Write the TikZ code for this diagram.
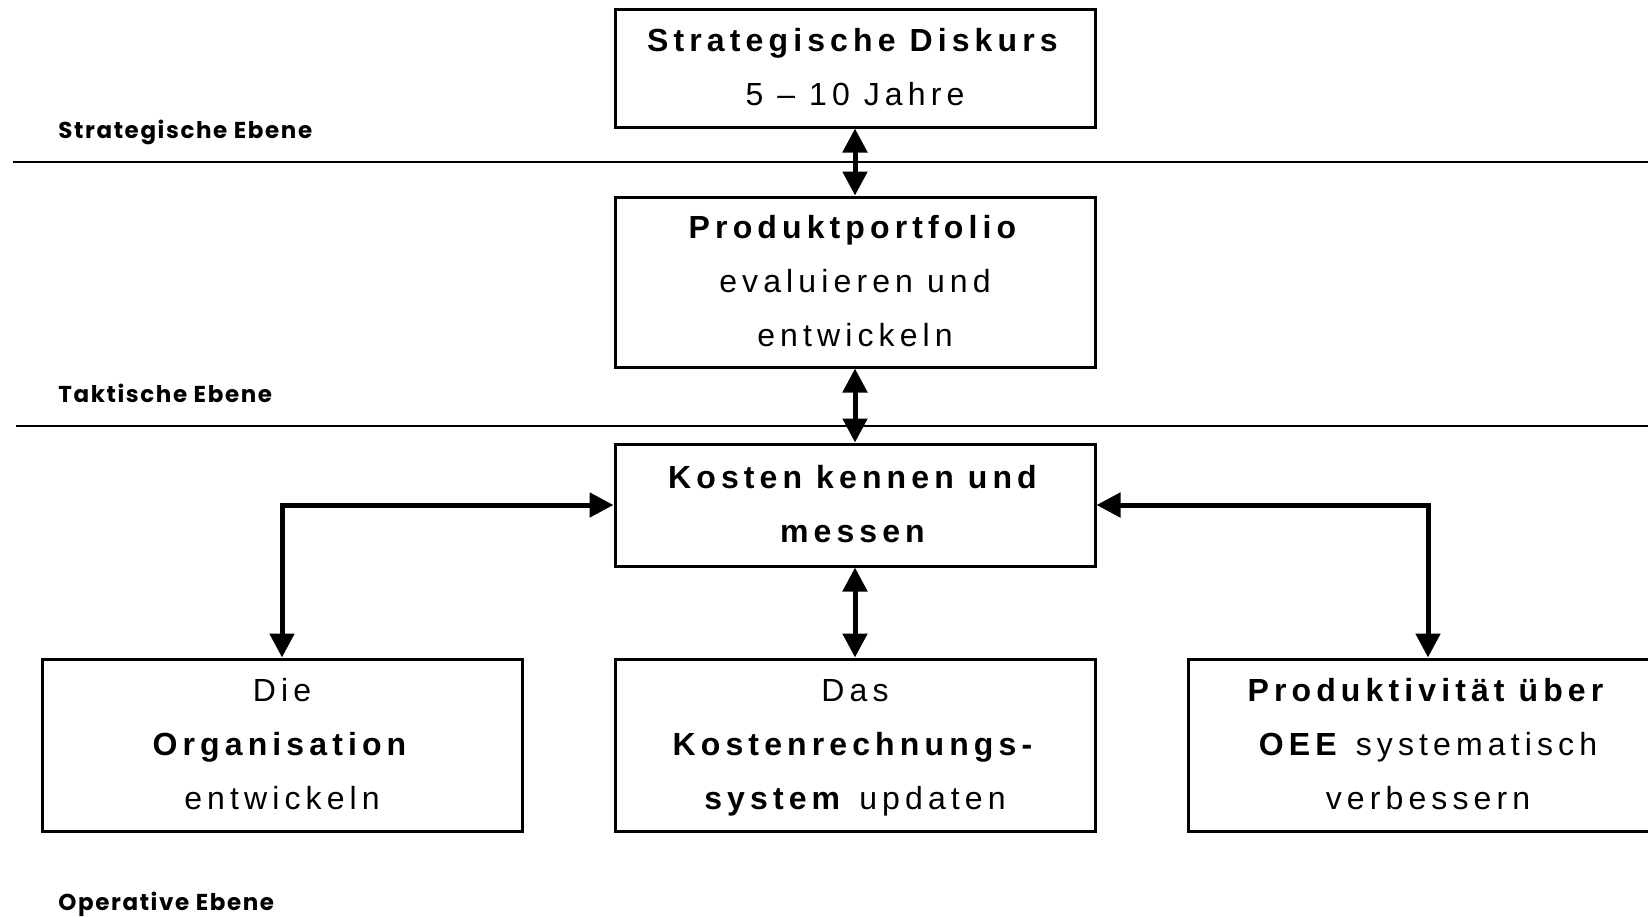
\documentclass[tikz,border=0pt]{standalone}
\usepackage{fontspec}
\setmainfont{Liberation Sans}[LetterSpace=16]
\newfontfamily\levelfont{Poppins}[LetterSpace=7]
\usepackage{tikz}
\usetikzlibrary{arrows.meta}

\begin{document}
\begin{tikzpicture}[
		x=0.5pt, y=-0.5pt,
		box/.style={draw, line width=1.5pt, align=center, minimum width=240pt, inner sep=0pt, font=\fontsize{16}{27}\selectfont},
		level/.style={anchor=base west, inner sep=0pt, font=\levelfont\bfseries\fontsize{11.5}{13}\selectfont},
		arrow/.style={<->, >={Triangle[length=12pt,width=12pt]}, line width=2.5pt},
		sep/.style={line width=1pt}
	]
		\useasboundingbox (0,0) rectangle (1648,916);
		\fill[white] (0,0) rectangle (1648,916);
		% Ebenen
		\draw[sep] (13,162) -- (1648,162);
		\draw[sep] (16,426) -- (1648,426);
		\node[level] (lstrat) at (58,138) {Strategische Ebene};
		\node[level] (ltakt) at (58,402) {Taktische Ebene};
		\node[level] (lop) at (58,910) {Operative Ebene};
		% Kaesten
		\node[box, minimum height=59pt] (strat) at (855,68) {\strut\textbf{Strategische Diskurs}\\5 – 10 Jahre\strut};
		\node[box, minimum height=85pt] (portfolio) at (855,282) {\strut\textbf{Produktportfolio}\\evaluieren und\\entwickeln\strut};
		\node[box, minimum height=61pt] (kosten) at (855,505) {\strut\textbf{Kosten kennen und}\\\textbf{messen}\strut};
		\node[box, minimum height=86pt] (orga) at (282,745) {\strut Die\\\textbf{Organisation}\\entwickeln\strut};
		\node[box, minimum height=86pt] (krs) at (855,745) {\strut Das\\\textbf{Kostenrechnungs-}\\\textbf{system} updaten\strut};
		\node[box, minimum height=86pt] (oee) at (1428,745) {\strut\textbf{Produktivität über}\\\textbf{OEE} systematisch\\verbessern\strut};
		% Pfeile
		\draw[arrow] (strat) -- (portfolio);
		\draw[arrow] (portfolio) -- (kosten);
		\draw[arrow] (kosten) -- (krs);
		\draw[arrow] (kosten.west) -| (orga.north);
		\draw[arrow] (kosten.east) -| (oee.north);
	\end{tikzpicture}
\end{document}
